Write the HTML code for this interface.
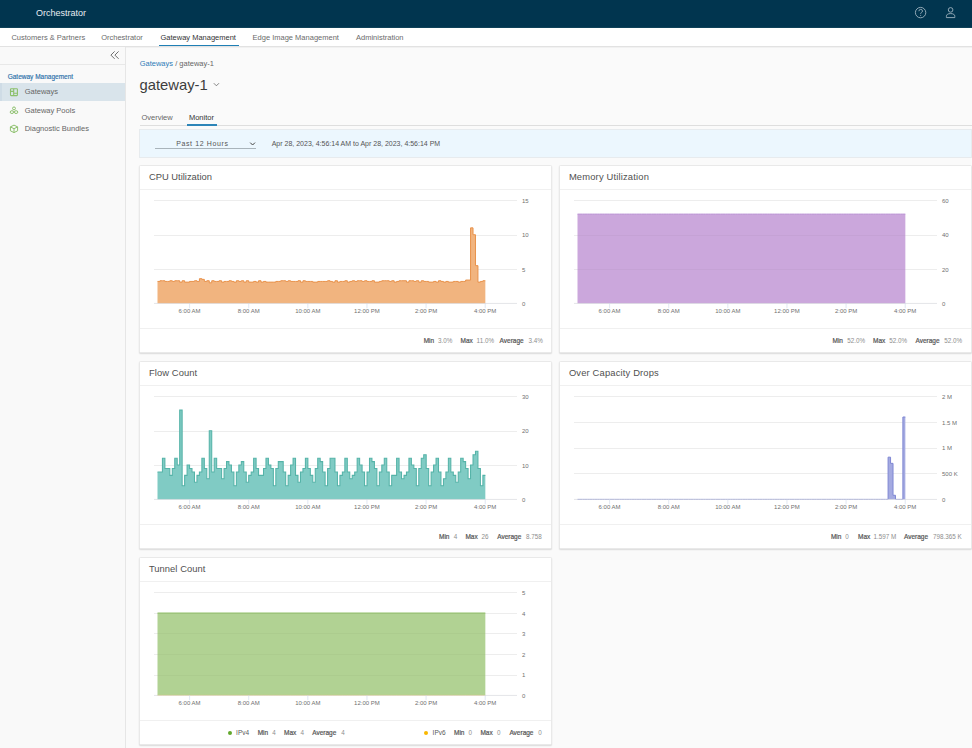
<!DOCTYPE html><html><head><meta charset="utf-8"><style>
*{box-sizing:border-box}
html,body{margin:0;padding:0;width:972px;height:748px;overflow:hidden;background:#fafafa;font-family:"Liberation Sans",sans-serif;}
.a{position:absolute;white-space:nowrap;}
.hdr{position:absolute;left:0;top:0;width:972px;height:28px;background:#01354f;}
.nav{position:absolute;left:0;top:28px;width:972px;height:19px;background:#fff;border-bottom:1px solid #e2e2e2;box-shadow:0 1px 0 #f1f1f1;}
.navt{position:absolute;top:33px;font-size:7.5px;color:#666;line-height:10px}
.side{position:absolute;left:0;top:47px;width:126px;height:701px;background:#f9f9f9;border-right:1px solid #e6e6e6;}
.card{position:absolute;background:#fff;border:1px solid #e9e9e9;border-radius:1.5px;box-shadow:0 1px 1.5px rgba(0,0,0,0.13);}
.ttl{position:absolute;font-size:9.4px;color:#505050;line-height:12px;}
.div{position:absolute;height:1px;background:#f0f0f0;}
.ft{font-size:6px;line-height:8px;}
.ft b{color:#454545;font-weight:700}
.ft span{color:#9a9a9a}
</style></head><body>

<div class="hdr"></div><div class="a" style="left:0;top:27px;width:972px;height:1px;background:#0f4259"></div>
<div class="a" style="left:36px;top:6.5px;font-size:9px;line-height:12px;color:#e8eef2;">Orchestrator</div>
<svg class="a" style="left:0;top:0" width="972" height="28"><circle cx="920.6" cy="12.6" r="5.2" fill="none" stroke="#9fb3bf" stroke-width="0.9"/><path d="M918.9 11.2 q0 -1.8 1.8 -1.8 q1.8 0 1.8 1.6 q0 1.1 -1.1 1.5 q-0.7 0.3 -0.7 1.2 v0.4" fill="none" stroke="#9fb3bf" stroke-width="0.85"/><circle cx="920.7" cy="15.6" r="0.5" fill="#9fb3bf"/><circle cx="950.6" cy="9.9" r="2.3" fill="none" stroke="#9fb3bf" stroke-width="0.9"/><path d="M946.4 17.6 v-1.2 q0 -2.8 4.2 -2.8 q4.2 0 4.2 2.8 v1.2 z" fill="none" stroke="#9fb3bf" stroke-width="0.9" stroke-linejoin="round"/></svg>
<div class="nav"></div>
<div class="a navt" style="left:11.4px;color:#6b6b6b">Customers &amp; Partners</div>
<div class="a navt" style="left:101.2px;color:#6b6b6b">Orchestrator</div>
<div class="a navt" style="left:160.5px;color:#333">Gateway Management</div>
<div class="a navt" style="left:252.6px;color:#6b6b6b">Edge Image Management</div>
<div class="a navt" style="left:356px;color:#6b6b6b">Administration</div>
<div class="a" style="left:158.8px;top:44.5px;width:80.2px;height:1.6px;background:#1f7fb5"></div>
<div class="side"></div>
<div class="a" style="left:0;top:64px;width:125px;height:1px;background:#e8e8e8"></div>
<svg class="a" style="left:108px;top:50px" width="14" height="12"><path d="M114.6 1.4 L110.9 5.1 L114.6 8.8 M118.6 1.4 L114.9 5.1 L118.6 8.8" transform="translate(-108 0)" fill="none" stroke="#5e5e5e" stroke-width="0.9"/></svg>
<div class="a" style="left:7.7px;top:72.8px;font-size:6.5px;line-height:8px;color:#2a70a9;-webkit-text-stroke:0.15px #2a70a9;">Gateway Management</div>
<div class="a" style="left:0;top:83px;width:125px;height:18.2px;background:#d9e4eb"></div><div class="a" style="left:0;top:83px;width:2px;height:18.2px;background:#cfdce6"></div>
<div class="a" style="left:24.7px;top:87.3px;font-size:7.5px;line-height:10px;color:#666">Gateways</div>
<div class="a" style="left:24.7px;top:105.6px;font-size:7.5px;line-height:10px;color:#666">Gateway Pools</div>
<div class="a" style="left:24.7px;top:123.8px;font-size:7.5px;line-height:10px;color:#666">Diagnostic Bundles</div>
<svg class="a" style="left:0;top:80px" width="24" height="60"><rect x="10.5" y="8.7" width="6.9" height="6.9" rx="0.6" fill="none" stroke="#8cc06c" stroke-width="1.1"/><path d="M13.7 8.7 V15.6 M10.5 11.4 H13.7 M13.7 13.2 H17.4" stroke="#8cc06c" stroke-width="1.1"/><circle cx="14" cy="28.4" r="1.45" fill="none" stroke="#8cc06c" stroke-width="1"/><ellipse cx="11.9" cy="32.1" rx="1.7" ry="1.4" fill="none" stroke="#8cc06c" stroke-width="1"/><ellipse cx="16.1" cy="32.1" rx="1.7" ry="1.4" fill="none" stroke="#8cc06c" stroke-width="1"/><path d="M14 45.1 l3.6 1.8 v3.9 l-3.6 1.8 l-3.6 -1.8 v-3.9 z M10.4 46.9 l3.6 1.8 l3.6 -1.8 M14 48.7 v3.9" fill="none" stroke="#8cc06c" stroke-width="1" stroke-linejoin="round"/></svg>
<div class="a" style="left:139.7px;top:59.2px;font-size:7.5px;line-height:10px;color:#666"><span style="color:#2f7bb8">Gateways</span> / gateway-1</div>
<div class="a" style="left:139.5px;top:75.6px;font-size:14.8px;line-height:18px;color:#3d3d3d;letter-spacing:0px">gateway-1</div>
<svg class="a" style="left:212px;top:80.8px" width="10" height="8"><path d="M1.8 2.2 L4.4 4.8 L7 2.2" fill="none" stroke="#666" stroke-width="0.8"/></svg>
<div class="a" style="left:139.7px;top:125px;width:833px;height:1px;background:#dedede"></div>
<div class="a" style="left:141.4px;top:112.8px;font-size:7.5px;line-height:10px;color:#666">Overview</div>
<div class="a" style="left:188.9px;top:112.8px;font-size:7.5px;line-height:10px;color:#333">Monitor</div>
<div class="a" style="left:187.4px;top:124.1px;width:29.4px;height:1.6px;background:#2d85b8"></div>
<div class="a" style="left:139.4px;top:128.5px;width:832.4px;height:29px;background:#ecf7fe;border:1px solid #e7ebee"></div>
<div class="a" style="left:176.2px;top:138.6px;font-size:7px;line-height:9px;color:#555;letter-spacing:0.62px">Past 12 Hours</div>
<div class="a" style="left:155px;top:147.9px;width:101.3px;height:1.1px;background:#a9b4bb"></div>
<svg class="a" style="left:248px;top:140px" width="9" height="7"><path d="M2.2 2.6 L4.6 5 L7 2.6" fill="none" stroke="#444" stroke-width="1"/></svg>
<div class="a" style="left:271.7px;top:138.5px;font-size:7px;line-height:9px;color:#555">Apr 28, 2023, 4:56:14 AM to Apr 28, 2023, 4:56:14 PM</div>
<div class="card" style="left:139px;top:165px;width:413px;height:188px"></div>
<div class="a ttl" style="left:148.9px;top:171.2px;letter-spacing:0px">CPU Utilization</div>
<div class="div" style="left:140px;top:188.8px;width:411px"></div>
<div class="div" style="left:140px;top:328px;width:411px"></div>
<div class="a" style="left:522px;top:197.00px;font-size:6px;line-height:8px;color:#707070">15</div>
<div class="a" style="left:522px;top:231.30px;font-size:6px;line-height:8px;color:#707070">10</div>
<div class="a" style="left:522px;top:265.60px;font-size:6px;line-height:8px;color:#707070">5</div>
<div class="a" style="left:522px;top:299.90px;font-size:6px;line-height:8px;color:#707070">0</div>
<div class="a" style="left:169.60px;width:40px;text-align:center;top:307px;font-size:6px;line-height:8px;color:#707070">6:00 AM</div>
<div class="a" style="left:228.72px;width:40px;text-align:center;top:307px;font-size:6px;line-height:8px;color:#707070">8:00 AM</div>
<div class="a" style="left:287.84px;width:40px;text-align:center;top:307px;font-size:6px;line-height:8px;color:#707070">10:00 AM</div>
<div class="a" style="left:346.96px;width:40px;text-align:center;top:307px;font-size:6px;line-height:8px;color:#707070">12:00 PM</div>
<div class="a" style="left:406.08px;width:40px;text-align:center;top:307px;font-size:6px;line-height:8px;color:#707070">2:00 PM</div>
<div class="a" style="left:465.20px;width:40px;text-align:center;top:307px;font-size:6px;line-height:8px;color:#707070">4:00 PM</div>
<div class="a ft" style="left:423.7px;top:336.6px;color:#555;-webkit-text-stroke:0.2px #555;font-size:6.5px">Min</div>
<div class="a ft" style="left:438.1px;top:336.6px;color:#8e8e8e;font-size:6.3px">3.0%</div>
<div class="a ft" style="left:460.5px;top:336.6px;color:#555;-webkit-text-stroke:0.2px #555;font-size:6.5px">Max</div>
<div class="a ft" style="left:476.6px;top:336.6px;color:#8e8e8e;font-size:6.3px">11.0%</div>
<div class="a ft" style="left:499.6px;top:336.6px;color:#555;-webkit-text-stroke:0.2px #555;font-size:6.5px">Average</div>
<div class="a ft" style="left:528.6px;top:336.6px;color:#8e8e8e;font-size:6.3px">3.4%</div>
<div class="card" style="left:559px;top:165px;width:413px;height:188px"></div>
<div class="a ttl" style="left:568.9px;top:171.2px;letter-spacing:0.17px">Memory Utilization</div>
<div class="div" style="left:560px;top:188.8px;width:411px"></div>
<div class="div" style="left:560px;top:328px;width:411px"></div>
<div class="a" style="left:942px;top:197.00px;font-size:6px;line-height:8px;color:#707070">60</div>
<div class="a" style="left:942px;top:231.30px;font-size:6px;line-height:8px;color:#707070">40</div>
<div class="a" style="left:942px;top:265.60px;font-size:6px;line-height:8px;color:#707070">20</div>
<div class="a" style="left:942px;top:299.90px;font-size:6px;line-height:8px;color:#707070">0</div>
<div class="a" style="left:589.60px;width:40px;text-align:center;top:307px;font-size:6px;line-height:8px;color:#707070">6:00 AM</div>
<div class="a" style="left:648.72px;width:40px;text-align:center;top:307px;font-size:6px;line-height:8px;color:#707070">8:00 AM</div>
<div class="a" style="left:707.84px;width:40px;text-align:center;top:307px;font-size:6px;line-height:8px;color:#707070">10:00 AM</div>
<div class="a" style="left:766.96px;width:40px;text-align:center;top:307px;font-size:6px;line-height:8px;color:#707070">12:00 PM</div>
<div class="a" style="left:826.08px;width:40px;text-align:center;top:307px;font-size:6px;line-height:8px;color:#707070">2:00 PM</div>
<div class="a" style="left:885.20px;width:40px;text-align:center;top:307px;font-size:6px;line-height:8px;color:#707070">4:00 PM</div>
<div class="a ft" style="left:832.5px;top:336.6px;color:#555;-webkit-text-stroke:0.2px #555;font-size:6.5px">Min</div>
<div class="a ft" style="left:847.3px;top:336.6px;color:#8e8e8e;font-size:6.3px">52.0%</div>
<div class="a ft" style="left:873px;top:336.6px;color:#555;-webkit-text-stroke:0.2px #555;font-size:6.5px">Max</div>
<div class="a ft" style="left:889.3px;top:336.6px;color:#8e8e8e;font-size:6.3px">52.0%</div>
<div class="a ft" style="left:915.5px;top:336.6px;color:#555;-webkit-text-stroke:0.2px #555;font-size:6.5px">Average</div>
<div class="a ft" style="left:944.3px;top:336.6px;color:#8e8e8e;font-size:6.3px">52.0%</div>
<div class="card" style="left:139px;top:361px;width:413px;height:188px"></div>
<div class="a ttl" style="left:148.9px;top:367.2px;letter-spacing:0.1px">Flow Count</div>
<div class="div" style="left:140px;top:384.8px;width:411px"></div>
<div class="div" style="left:140px;top:524px;width:411px"></div>
<div class="a" style="left:522px;top:393.00px;font-size:6px;line-height:8px;color:#707070">30</div>
<div class="a" style="left:522px;top:427.30px;font-size:6px;line-height:8px;color:#707070">20</div>
<div class="a" style="left:522px;top:461.60px;font-size:6px;line-height:8px;color:#707070">10</div>
<div class="a" style="left:522px;top:495.90px;font-size:6px;line-height:8px;color:#707070">0</div>
<div class="a" style="left:169.60px;width:40px;text-align:center;top:503px;font-size:6px;line-height:8px;color:#707070">6:00 AM</div>
<div class="a" style="left:228.72px;width:40px;text-align:center;top:503px;font-size:6px;line-height:8px;color:#707070">8:00 AM</div>
<div class="a" style="left:287.84px;width:40px;text-align:center;top:503px;font-size:6px;line-height:8px;color:#707070">10:00 AM</div>
<div class="a" style="left:346.96px;width:40px;text-align:center;top:503px;font-size:6px;line-height:8px;color:#707070">12:00 PM</div>
<div class="a" style="left:406.08px;width:40px;text-align:center;top:503px;font-size:6px;line-height:8px;color:#707070">2:00 PM</div>
<div class="a" style="left:465.20px;width:40px;text-align:center;top:503px;font-size:6px;line-height:8px;color:#707070">4:00 PM</div>
<div class="a ft" style="left:439px;top:532.6px;color:#555;-webkit-text-stroke:0.2px #555;font-size:6.5px">Min</div>
<div class="a ft" style="left:453.8px;top:532.6px;color:#8e8e8e;font-size:6.3px">4</div>
<div class="a ft" style="left:465.4px;top:532.6px;color:#555;-webkit-text-stroke:0.2px #555;font-size:6.5px">Max</div>
<div class="a ft" style="left:481.6px;top:532.6px;color:#8e8e8e;font-size:6.3px">26</div>
<div class="a ft" style="left:497.2px;top:532.6px;color:#555;-webkit-text-stroke:0.2px #555;font-size:6.5px">Average</div>
<div class="a ft" style="left:526.1px;top:532.6px;color:#8e8e8e;font-size:6.3px">8.758</div>
<div class="card" style="left:559px;top:361px;width:413px;height:188px"></div>
<div class="a ttl" style="left:568.9px;top:367.2px;letter-spacing:0.16px">Over Capacity Drops</div>
<div class="div" style="left:560px;top:384.8px;width:411px"></div>
<div class="div" style="left:560px;top:524px;width:411px"></div>
<div class="a" style="left:942px;top:393.00px;font-size:6px;line-height:8px;color:#707070">2 M</div>
<div class="a" style="left:942px;top:418.72px;font-size:6px;line-height:8px;color:#707070">1.5 M</div>
<div class="a" style="left:942px;top:444.45px;font-size:6px;line-height:8px;color:#707070">1 M</div>
<div class="a" style="left:942px;top:470.18px;font-size:6px;line-height:8px;color:#707070">500 K</div>
<div class="a" style="left:942px;top:495.90px;font-size:6px;line-height:8px;color:#707070">0</div>
<div class="a" style="left:589.60px;width:40px;text-align:center;top:503px;font-size:6px;line-height:8px;color:#707070">6:00 AM</div>
<div class="a" style="left:648.72px;width:40px;text-align:center;top:503px;font-size:6px;line-height:8px;color:#707070">8:00 AM</div>
<div class="a" style="left:707.84px;width:40px;text-align:center;top:503px;font-size:6px;line-height:8px;color:#707070">10:00 AM</div>
<div class="a" style="left:766.96px;width:40px;text-align:center;top:503px;font-size:6px;line-height:8px;color:#707070">12:00 PM</div>
<div class="a" style="left:826.08px;width:40px;text-align:center;top:503px;font-size:6px;line-height:8px;color:#707070">2:00 PM</div>
<div class="a" style="left:885.20px;width:40px;text-align:center;top:503px;font-size:6px;line-height:8px;color:#707070">4:00 PM</div>
<div class="a ft" style="left:830.9px;top:532.6px;color:#555;-webkit-text-stroke:0.2px #555;font-size:6.5px">Min</div>
<div class="a ft" style="left:845.3px;top:532.6px;color:#8e8e8e;font-size:6.3px">0</div>
<div class="a ft" style="left:858px;top:532.6px;color:#555;-webkit-text-stroke:0.2px #555;font-size:6.5px">Max</div>
<div class="a ft" style="left:873.6px;top:532.6px;color:#8e8e8e;font-size:6.3px">1.597 M</div>
<div class="a ft" style="left:904px;top:532.6px;color:#555;-webkit-text-stroke:0.2px #555;font-size:6.5px">Average</div>
<div class="a ft" style="left:932.9px;top:532.6px;color:#8e8e8e;font-size:6.3px">798.365 K</div>
<div class="card" style="left:139px;top:557px;width:413px;height:188px"></div>
<div class="a ttl" style="left:148.9px;top:563.2px;letter-spacing:0.05px">Tunnel Count</div>
<div class="div" style="left:140px;top:580.8px;width:411px"></div>
<div class="div" style="left:140px;top:720px;width:411px"></div>
<div class="a" style="left:522px;top:589.00px;font-size:6px;line-height:8px;color:#707070">5</div>
<div class="a" style="left:522px;top:609.58px;font-size:6px;line-height:8px;color:#707070">4</div>
<div class="a" style="left:522px;top:630.16px;font-size:6px;line-height:8px;color:#707070">3</div>
<div class="a" style="left:522px;top:650.74px;font-size:6px;line-height:8px;color:#707070">2</div>
<div class="a" style="left:522px;top:671.32px;font-size:6px;line-height:8px;color:#707070">1</div>
<div class="a" style="left:522px;top:691.90px;font-size:6px;line-height:8px;color:#707070">0</div>
<div class="a" style="left:169.60px;width:40px;text-align:center;top:699px;font-size:6px;line-height:8px;color:#707070">6:00 AM</div>
<div class="a" style="left:228.72px;width:40px;text-align:center;top:699px;font-size:6px;line-height:8px;color:#707070">8:00 AM</div>
<div class="a" style="left:287.84px;width:40px;text-align:center;top:699px;font-size:6px;line-height:8px;color:#707070">10:00 AM</div>
<div class="a" style="left:346.96px;width:40px;text-align:center;top:699px;font-size:6px;line-height:8px;color:#707070">12:00 PM</div>
<div class="a" style="left:406.08px;width:40px;text-align:center;top:699px;font-size:6px;line-height:8px;color:#707070">2:00 PM</div>
<div class="a" style="left:465.20px;width:40px;text-align:center;top:699px;font-size:6px;line-height:8px;color:#707070">4:00 PM</div>
<div class="a ft" style="left:236.1px;top:728.8000000000001px;color:#5a5a5a;font-size:6.5px">IPv4</div>
<div class="a ft" style="left:257.7px;top:728.8000000000001px;color:#555;-webkit-text-stroke:0.2px #555;font-size:6.5px">Min</div>
<div class="a ft" style="left:272.3px;top:728.8000000000001px;color:#8e8e8e;font-size:6.3px">4</div>
<div class="a ft" style="left:284.1px;top:728.8000000000001px;color:#555;-webkit-text-stroke:0.2px #555;font-size:6.5px">Max</div>
<div class="a ft" style="left:300.4px;top:728.8000000000001px;color:#8e8e8e;font-size:6.3px">4</div>
<div class="a ft" style="left:312.2px;top:728.8000000000001px;color:#555;-webkit-text-stroke:0.2px #555;font-size:6.5px">Average</div>
<div class="a ft" style="left:341.3px;top:728.8000000000001px;color:#8e8e8e;font-size:6.3px">4</div>
<div class="a ft" style="left:432.6px;top:728.8000000000001px;color:#5a5a5a;font-size:6.5px">IPv6</div>
<div class="a ft" style="left:454px;top:728.8000000000001px;color:#555;-webkit-text-stroke:0.2px #555;font-size:6.5px">Min</div>
<div class="a ft" style="left:468.5px;top:728.8000000000001px;color:#8e8e8e;font-size:6.3px">0</div>
<div class="a ft" style="left:480.4px;top:728.8000000000001px;color:#555;-webkit-text-stroke:0.2px #555;font-size:6.5px">Max</div>
<div class="a ft" style="left:497px;top:728.8000000000001px;color:#8e8e8e;font-size:6.3px">0</div>
<div class="a ft" style="left:509.4px;top:728.8000000000001px;color:#555;-webkit-text-stroke:0.2px #555;font-size:6.5px">Average</div>
<div class="a ft" style="left:538.2px;top:728.8000000000001px;color:#8e8e8e;font-size:6.3px">0</div>
<div class="a" style="left:228.1px;top:730.5px;width:4.2px;height:4.2px;border-radius:50%;background:#62a82c"></div>
<div class="a" style="left:424.3px;top:730.5px;width:4.2px;height:4.2px;border-radius:50%;background:#f9b700"></div>
<svg class="a" style="left:0;top:0" width="972" height="748">
<line x1="154" x2="517" y1="200.50" y2="200.50" stroke="#e9e9e9" stroke-width="0.8"/>
<line x1="154" x2="517" y1="235.50" y2="235.50" stroke="#e9e9e9" stroke-width="0.8"/>
<line x1="154" x2="517" y1="269.50" y2="269.50" stroke="#e9e9e9" stroke-width="0.8"/>
<path d="M157.50 303.40 L157.50 281.43 L159.97 281.43 L159.97 280.74 L162.43 280.74 L162.43 280.74 L164.90 280.74 L164.90 281.43 L167.36 281.43 L167.36 281.43 L169.82 281.43 L169.82 280.74 L172.29 280.74 L172.29 281.43 L174.75 281.43 L174.75 280.74 L177.22 280.74 L177.22 280.74 L179.69 280.74 L179.69 282.11 L182.15 282.11 L182.15 280.74 L184.62 280.74 L184.62 282.11 L187.08 282.11 L187.08 282.11 L189.55 282.11 L189.55 281.43 L192.01 281.43 L192.01 281.43 L194.47 281.43 L194.47 280.74 L196.94 280.74 L196.94 281.43 L199.41 281.43 L199.41 278.68 L201.87 278.68 L201.87 279.37 L204.33 279.37 L204.33 281.43 L206.80 281.43 L206.80 280.74 L209.26 280.74 L209.26 282.80 L211.73 282.80 L211.73 280.74 L214.19 280.74 L214.19 281.43 L216.66 281.43 L216.66 281.43 L219.12 281.43 L219.12 280.74 L221.59 280.74 L221.59 282.11 L224.06 282.11 L224.06 281.43 L226.52 281.43 L226.52 281.43 L228.99 281.43 L228.99 280.74 L231.45 280.74 L231.45 281.43 L233.91 281.43 L233.91 282.11 L236.38 282.11 L236.38 280.74 L238.84 280.74 L238.84 281.43 L241.31 281.43 L241.31 280.74 L243.77 280.74 L243.77 282.11 L246.24 282.11 L246.24 280.74 L248.70 280.74 L248.70 282.11 L251.17 282.11 L251.17 282.11 L253.63 282.11 L253.63 281.43 L256.10 281.43 L256.10 282.11 L258.56 282.11 L258.56 280.74 L261.03 280.74 L261.03 282.11 L263.50 282.11 L263.50 281.43 L265.96 281.43 L265.96 282.11 L268.43 282.11 L268.43 282.11 L270.89 282.11 L270.89 282.11 L273.36 282.11 L273.36 282.11 L275.82 282.11 L275.82 281.43 L278.28 281.43 L278.28 281.43 L280.75 281.43 L280.75 280.74 L283.21 280.74 L283.21 280.74 L285.68 280.74 L285.68 281.43 L288.14 281.43 L288.14 280.74 L290.61 280.74 L290.61 281.43 L293.07 281.43 L293.07 281.43 L295.54 281.43 L295.54 281.43 L298.00 281.43 L298.00 280.74 L300.47 280.74 L300.47 282.11 L302.94 282.11 L302.94 280.74 L305.40 280.74 L305.40 281.43 L307.87 281.43 L307.87 281.43 L310.33 281.43 L310.33 281.43 L312.79 281.43 L312.79 282.11 L315.26 282.11 L315.26 282.11 L317.73 282.11 L317.73 281.43 L320.19 281.43 L320.19 281.43 L322.65 281.43 L322.65 281.43 L325.12 281.43 L325.12 281.43 L327.58 281.43 L327.58 280.74 L330.05 280.74 L330.05 281.43 L332.51 281.43 L332.51 282.11 L334.98 282.11 L334.98 280.74 L337.44 280.74 L337.44 282.11 L339.91 282.11 L339.91 281.43 L342.38 281.43 L342.38 281.43 L344.84 281.43 L344.84 280.74 L347.30 280.74 L347.30 282.11 L349.77 282.11 L349.77 281.43 L352.24 281.43 L352.24 280.74 L354.70 280.74 L354.70 281.43 L357.16 281.43 L357.16 280.74 L359.63 280.74 L359.63 280.74 L362.10 280.74 L362.10 281.43 L364.56 281.43 L364.56 280.74 L367.02 280.74 L367.02 281.43 L369.49 281.43 L369.49 281.43 L371.95 281.43 L371.95 280.74 L374.42 280.74 L374.42 282.11 L376.88 282.11 L376.88 282.11 L379.35 282.11 L379.35 281.43 L381.81 281.43 L381.81 280.74 L384.28 280.74 L384.28 280.74 L386.75 280.74 L386.75 280.74 L389.21 280.74 L389.21 281.43 L391.67 281.43 L391.67 280.74 L394.14 280.74 L394.14 282.11 L396.61 282.11 L396.61 281.43 L399.07 281.43 L399.07 280.74 L401.53 280.74 L401.53 280.74 L404.00 280.74 L404.00 280.74 L406.46 280.74 L406.46 282.11 L408.93 282.11 L408.93 280.74 L411.39 280.74 L411.39 280.74 L413.86 280.74 L413.86 281.43 L416.32 281.43 L416.32 280.74 L418.79 280.74 L418.79 282.11 L421.25 282.11 L421.25 280.74 L423.72 280.74 L423.72 281.43 L426.19 281.43 L426.19 281.43 L428.65 281.43 L428.65 282.11 L431.12 282.11 L431.12 282.11 L433.58 282.11 L433.58 281.43 L436.04 281.43 L436.04 282.11 L438.51 282.11 L438.51 280.74 L440.97 280.74 L440.97 281.43 L443.44 281.43 L443.44 282.11 L445.90 282.11 L445.90 281.43 L448.37 281.43 L448.37 282.11 L450.83 282.11 L450.83 282.11 L453.30 282.11 L453.30 281.43 L455.76 281.43 L455.76 281.43 L458.23 281.43 L458.23 282.11 L460.69 282.11 L460.69 281.43 L463.16 281.43 L463.16 281.43 L465.62 281.43 L465.62 280.05 L468.09 280.05 L468.09 280.05 L470.56 280.05 L470.56 227.87 L473.02 227.87 L473.02 234.73 L475.48 234.73 L475.48 265.63 L477.95 265.63 L477.95 282.11 L480.41 282.11 L480.41 281.43 L482.88 281.43 L482.88 280.74 L485.34 280.74 L485.34 303.40 Z" fill="#f1b47f"/>
<path d="M157.50 281.43 L159.97 281.43 L159.97 280.74 L162.43 280.74 L162.43 280.74 L164.90 280.74 L164.90 281.43 L167.36 281.43 L167.36 281.43 L169.82 281.43 L169.82 280.74 L172.29 280.74 L172.29 281.43 L174.75 281.43 L174.75 280.74 L177.22 280.74 L177.22 280.74 L179.69 280.74 L179.69 282.11 L182.15 282.11 L182.15 280.74 L184.62 280.74 L184.62 282.11 L187.08 282.11 L187.08 282.11 L189.55 282.11 L189.55 281.43 L192.01 281.43 L192.01 281.43 L194.47 281.43 L194.47 280.74 L196.94 280.74 L196.94 281.43 L199.41 281.43 L199.41 278.68 L201.87 278.68 L201.87 279.37 L204.33 279.37 L204.33 281.43 L206.80 281.43 L206.80 280.74 L209.26 280.74 L209.26 282.80 L211.73 282.80 L211.73 280.74 L214.19 280.74 L214.19 281.43 L216.66 281.43 L216.66 281.43 L219.12 281.43 L219.12 280.74 L221.59 280.74 L221.59 282.11 L224.06 282.11 L224.06 281.43 L226.52 281.43 L226.52 281.43 L228.99 281.43 L228.99 280.74 L231.45 280.74 L231.45 281.43 L233.91 281.43 L233.91 282.11 L236.38 282.11 L236.38 280.74 L238.84 280.74 L238.84 281.43 L241.31 281.43 L241.31 280.74 L243.77 280.74 L243.77 282.11 L246.24 282.11 L246.24 280.74 L248.70 280.74 L248.70 282.11 L251.17 282.11 L251.17 282.11 L253.63 282.11 L253.63 281.43 L256.10 281.43 L256.10 282.11 L258.56 282.11 L258.56 280.74 L261.03 280.74 L261.03 282.11 L263.50 282.11 L263.50 281.43 L265.96 281.43 L265.96 282.11 L268.43 282.11 L268.43 282.11 L270.89 282.11 L270.89 282.11 L273.36 282.11 L273.36 282.11 L275.82 282.11 L275.82 281.43 L278.28 281.43 L278.28 281.43 L280.75 281.43 L280.75 280.74 L283.21 280.74 L283.21 280.74 L285.68 280.74 L285.68 281.43 L288.14 281.43 L288.14 280.74 L290.61 280.74 L290.61 281.43 L293.07 281.43 L293.07 281.43 L295.54 281.43 L295.54 281.43 L298.00 281.43 L298.00 280.74 L300.47 280.74 L300.47 282.11 L302.94 282.11 L302.94 280.74 L305.40 280.74 L305.40 281.43 L307.87 281.43 L307.87 281.43 L310.33 281.43 L310.33 281.43 L312.79 281.43 L312.79 282.11 L315.26 282.11 L315.26 282.11 L317.73 282.11 L317.73 281.43 L320.19 281.43 L320.19 281.43 L322.65 281.43 L322.65 281.43 L325.12 281.43 L325.12 281.43 L327.58 281.43 L327.58 280.74 L330.05 280.74 L330.05 281.43 L332.51 281.43 L332.51 282.11 L334.98 282.11 L334.98 280.74 L337.44 280.74 L337.44 282.11 L339.91 282.11 L339.91 281.43 L342.38 281.43 L342.38 281.43 L344.84 281.43 L344.84 280.74 L347.30 280.74 L347.30 282.11 L349.77 282.11 L349.77 281.43 L352.24 281.43 L352.24 280.74 L354.70 280.74 L354.70 281.43 L357.16 281.43 L357.16 280.74 L359.63 280.74 L359.63 280.74 L362.10 280.74 L362.10 281.43 L364.56 281.43 L364.56 280.74 L367.02 280.74 L367.02 281.43 L369.49 281.43 L369.49 281.43 L371.95 281.43 L371.95 280.74 L374.42 280.74 L374.42 282.11 L376.88 282.11 L376.88 282.11 L379.35 282.11 L379.35 281.43 L381.81 281.43 L381.81 280.74 L384.28 280.74 L384.28 280.74 L386.75 280.74 L386.75 280.74 L389.21 280.74 L389.21 281.43 L391.67 281.43 L391.67 280.74 L394.14 280.74 L394.14 282.11 L396.61 282.11 L396.61 281.43 L399.07 281.43 L399.07 280.74 L401.53 280.74 L401.53 280.74 L404.00 280.74 L404.00 280.74 L406.46 280.74 L406.46 282.11 L408.93 282.11 L408.93 280.74 L411.39 280.74 L411.39 280.74 L413.86 280.74 L413.86 281.43 L416.32 281.43 L416.32 280.74 L418.79 280.74 L418.79 282.11 L421.25 282.11 L421.25 280.74 L423.72 280.74 L423.72 281.43 L426.19 281.43 L426.19 281.43 L428.65 281.43 L428.65 282.11 L431.12 282.11 L431.12 282.11 L433.58 282.11 L433.58 281.43 L436.04 281.43 L436.04 282.11 L438.51 282.11 L438.51 280.74 L440.97 280.74 L440.97 281.43 L443.44 281.43 L443.44 282.11 L445.90 282.11 L445.90 281.43 L448.37 281.43 L448.37 282.11 L450.83 282.11 L450.83 282.11 L453.30 282.11 L453.30 281.43 L455.76 281.43 L455.76 281.43 L458.23 281.43 L458.23 282.11 L460.69 282.11 L460.69 281.43 L463.16 281.43 L463.16 281.43 L465.62 281.43 L465.62 280.05 L468.09 280.05 L468.09 280.05 L470.56 280.05 L470.56 227.87 L473.02 227.87 L473.02 234.73 L475.48 234.73 L475.48 265.63 L477.95 265.63 L477.95 282.11 L480.41 282.11 L480.41 281.43 L482.88 281.43 L482.88 280.74 L485.34 280.74" fill="none" stroke="#e8924b" stroke-width="1"/>
<line x1="154" x2="517" y1="303.45" y2="303.45" stroke="#d8dadf" stroke-width="0.7"/>
<line x1="189.60" x2="189.60" y1="303.2" y2="308.2" stroke="#ccd6eb" stroke-width="0.6"/>
<line x1="248.72" x2="248.72" y1="303.2" y2="308.2" stroke="#ccd6eb" stroke-width="0.6"/>
<line x1="307.84" x2="307.84" y1="303.2" y2="308.2" stroke="#ccd6eb" stroke-width="0.6"/>
<line x1="366.96" x2="366.96" y1="303.2" y2="308.2" stroke="#ccd6eb" stroke-width="0.6"/>
<line x1="426.08" x2="426.08" y1="303.2" y2="308.2" stroke="#ccd6eb" stroke-width="0.6"/>
<line x1="485.20" x2="485.20" y1="303.2" y2="308.2" stroke="#ccd6eb" stroke-width="0.6"/>
</svg>
<svg class="a" style="left:0;top:0" width="972" height="748">
<line x1="574" x2="937" y1="200.50" y2="200.50" stroke="#e9e9e9" stroke-width="0.8"/>
<line x1="574" x2="937" y1="235.50" y2="235.50" stroke="#e9e9e9" stroke-width="0.8"/>
<line x1="574" x2="937" y1="269.50" y2="269.50" stroke="#e9e9e9" stroke-width="0.8"/>
<path d="M577.50 303.40 L577.50 214.13 L579.97 214.13 L579.97 214.13 L582.43 214.13 L582.43 214.13 L584.89 214.13 L584.89 214.13 L587.36 214.13 L587.36 214.13 L589.83 214.13 L589.83 214.13 L592.29 214.13 L592.29 214.13 L594.75 214.13 L594.75 214.13 L597.22 214.13 L597.22 214.13 L599.68 214.13 L599.68 214.13 L602.15 214.13 L602.15 214.13 L604.62 214.13 L604.62 214.13 L607.08 214.13 L607.08 214.13 L609.54 214.13 L609.54 214.13 L612.01 214.13 L612.01 214.13 L614.48 214.13 L614.48 214.13 L616.94 214.13 L616.94 214.13 L619.40 214.13 L619.40 214.13 L621.87 214.13 L621.87 214.13 L624.34 214.13 L624.34 214.13 L626.80 214.13 L626.80 214.13 L629.26 214.13 L629.26 214.13 L631.73 214.13 L631.73 214.13 L634.19 214.13 L634.19 214.13 L636.66 214.13 L636.66 214.13 L639.12 214.13 L639.12 214.13 L641.59 214.13 L641.59 214.13 L644.05 214.13 L644.05 214.13 L646.52 214.13 L646.52 214.13 L648.99 214.13 L648.99 214.13 L651.45 214.13 L651.45 214.13 L653.91 214.13 L653.91 214.13 L656.38 214.13 L656.38 214.13 L658.85 214.13 L658.85 214.13 L661.31 214.13 L661.31 214.13 L663.77 214.13 L663.77 214.13 L666.24 214.13 L666.24 214.13 L668.71 214.13 L668.71 214.13 L671.17 214.13 L671.17 214.13 L673.63 214.13 L673.63 214.13 L676.10 214.13 L676.10 214.13 L678.57 214.13 L678.57 214.13 L681.03 214.13 L681.03 214.13 L683.50 214.13 L683.50 214.13 L685.96 214.13 L685.96 214.13 L688.42 214.13 L688.42 214.13 L690.89 214.13 L690.89 214.13 L693.36 214.13 L693.36 214.13 L695.82 214.13 L695.82 214.13 L698.28 214.13 L698.28 214.13 L700.75 214.13 L700.75 214.13 L703.22 214.13 L703.22 214.13 L705.68 214.13 L705.68 214.13 L708.14 214.13 L708.14 214.13 L710.61 214.13 L710.61 214.13 L713.08 214.13 L713.08 214.13 L715.54 214.13 L715.54 214.13 L718.00 214.13 L718.00 214.13 L720.47 214.13 L720.47 214.13 L722.93 214.13 L722.93 214.13 L725.40 214.13 L725.40 214.13 L727.87 214.13 L727.87 214.13 L730.33 214.13 L730.33 214.13 L732.79 214.13 L732.79 214.13 L735.26 214.13 L735.26 214.13 L737.73 214.13 L737.73 214.13 L740.19 214.13 L740.19 214.13 L742.65 214.13 L742.65 214.13 L745.12 214.13 L745.12 214.13 L747.59 214.13 L747.59 214.13 L750.05 214.13 L750.05 214.13 L752.51 214.13 L752.51 214.13 L754.98 214.13 L754.98 214.13 L757.44 214.13 L757.44 214.13 L759.91 214.13 L759.91 214.13 L762.38 214.13 L762.38 214.13 L764.84 214.13 L764.84 214.13 L767.30 214.13 L767.30 214.13 L769.77 214.13 L769.77 214.13 L772.24 214.13 L772.24 214.13 L774.70 214.13 L774.70 214.13 L777.16 214.13 L777.16 214.13 L779.63 214.13 L779.63 214.13 L782.10 214.13 L782.10 214.13 L784.56 214.13 L784.56 214.13 L787.02 214.13 L787.02 214.13 L789.49 214.13 L789.49 214.13 L791.95 214.13 L791.95 214.13 L794.42 214.13 L794.42 214.13 L796.88 214.13 L796.88 214.13 L799.35 214.13 L799.35 214.13 L801.82 214.13 L801.82 214.13 L804.28 214.13 L804.28 214.13 L806.75 214.13 L806.75 214.13 L809.21 214.13 L809.21 214.13 L811.67 214.13 L811.67 214.13 L814.14 214.13 L814.14 214.13 L816.61 214.13 L816.61 214.13 L819.07 214.13 L819.07 214.13 L821.53 214.13 L821.53 214.13 L824.00 214.13 L824.00 214.13 L826.46 214.13 L826.46 214.13 L828.93 214.13 L828.93 214.13 L831.39 214.13 L831.39 214.13 L833.86 214.13 L833.86 214.13 L836.33 214.13 L836.33 214.13 L838.79 214.13 L838.79 214.13 L841.25 214.13 L841.25 214.13 L843.72 214.13 L843.72 214.13 L846.18 214.13 L846.18 214.13 L848.65 214.13 L848.65 214.13 L851.12 214.13 L851.12 214.13 L853.58 214.13 L853.58 214.13 L856.04 214.13 L856.04 214.13 L858.51 214.13 L858.51 214.13 L860.97 214.13 L860.97 214.13 L863.44 214.13 L863.44 214.13 L865.90 214.13 L865.90 214.13 L868.37 214.13 L868.37 214.13 L870.84 214.13 L870.84 214.13 L873.30 214.13 L873.30 214.13 L875.76 214.13 L875.76 214.13 L878.23 214.13 L878.23 214.13 L880.69 214.13 L880.69 214.13 L883.16 214.13 L883.16 214.13 L885.62 214.13 L885.62 214.13 L888.09 214.13 L888.09 214.13 L890.56 214.13 L890.56 214.13 L893.02 214.13 L893.02 214.13 L895.48 214.13 L895.48 214.13 L897.95 214.13 L897.95 214.13 L900.41 214.13 L900.41 214.13 L902.88 214.13 L902.88 214.13 L905.35 214.13 L905.35 303.40 Z" fill="#cba7dc"/>
<path d="M577.50 214.13 L579.97 214.13 L579.97 214.13 L582.43 214.13 L582.43 214.13 L584.89 214.13 L584.89 214.13 L587.36 214.13 L587.36 214.13 L589.83 214.13 L589.83 214.13 L592.29 214.13 L592.29 214.13 L594.75 214.13 L594.75 214.13 L597.22 214.13 L597.22 214.13 L599.68 214.13 L599.68 214.13 L602.15 214.13 L602.15 214.13 L604.62 214.13 L604.62 214.13 L607.08 214.13 L607.08 214.13 L609.54 214.13 L609.54 214.13 L612.01 214.13 L612.01 214.13 L614.48 214.13 L614.48 214.13 L616.94 214.13 L616.94 214.13 L619.40 214.13 L619.40 214.13 L621.87 214.13 L621.87 214.13 L624.34 214.13 L624.34 214.13 L626.80 214.13 L626.80 214.13 L629.26 214.13 L629.26 214.13 L631.73 214.13 L631.73 214.13 L634.19 214.13 L634.19 214.13 L636.66 214.13 L636.66 214.13 L639.12 214.13 L639.12 214.13 L641.59 214.13 L641.59 214.13 L644.05 214.13 L644.05 214.13 L646.52 214.13 L646.52 214.13 L648.99 214.13 L648.99 214.13 L651.45 214.13 L651.45 214.13 L653.91 214.13 L653.91 214.13 L656.38 214.13 L656.38 214.13 L658.85 214.13 L658.85 214.13 L661.31 214.13 L661.31 214.13 L663.77 214.13 L663.77 214.13 L666.24 214.13 L666.24 214.13 L668.71 214.13 L668.71 214.13 L671.17 214.13 L671.17 214.13 L673.63 214.13 L673.63 214.13 L676.10 214.13 L676.10 214.13 L678.57 214.13 L678.57 214.13 L681.03 214.13 L681.03 214.13 L683.50 214.13 L683.50 214.13 L685.96 214.13 L685.96 214.13 L688.42 214.13 L688.42 214.13 L690.89 214.13 L690.89 214.13 L693.36 214.13 L693.36 214.13 L695.82 214.13 L695.82 214.13 L698.28 214.13 L698.28 214.13 L700.75 214.13 L700.75 214.13 L703.22 214.13 L703.22 214.13 L705.68 214.13 L705.68 214.13 L708.14 214.13 L708.14 214.13 L710.61 214.13 L710.61 214.13 L713.08 214.13 L713.08 214.13 L715.54 214.13 L715.54 214.13 L718.00 214.13 L718.00 214.13 L720.47 214.13 L720.47 214.13 L722.93 214.13 L722.93 214.13 L725.40 214.13 L725.40 214.13 L727.87 214.13 L727.87 214.13 L730.33 214.13 L730.33 214.13 L732.79 214.13 L732.79 214.13 L735.26 214.13 L735.26 214.13 L737.73 214.13 L737.73 214.13 L740.19 214.13 L740.19 214.13 L742.65 214.13 L742.65 214.13 L745.12 214.13 L745.12 214.13 L747.59 214.13 L747.59 214.13 L750.05 214.13 L750.05 214.13 L752.51 214.13 L752.51 214.13 L754.98 214.13 L754.98 214.13 L757.44 214.13 L757.44 214.13 L759.91 214.13 L759.91 214.13 L762.38 214.13 L762.38 214.13 L764.84 214.13 L764.84 214.13 L767.30 214.13 L767.30 214.13 L769.77 214.13 L769.77 214.13 L772.24 214.13 L772.24 214.13 L774.70 214.13 L774.70 214.13 L777.16 214.13 L777.16 214.13 L779.63 214.13 L779.63 214.13 L782.10 214.13 L782.10 214.13 L784.56 214.13 L784.56 214.13 L787.02 214.13 L787.02 214.13 L789.49 214.13 L789.49 214.13 L791.95 214.13 L791.95 214.13 L794.42 214.13 L794.42 214.13 L796.88 214.13 L796.88 214.13 L799.35 214.13 L799.35 214.13 L801.82 214.13 L801.82 214.13 L804.28 214.13 L804.28 214.13 L806.75 214.13 L806.75 214.13 L809.21 214.13 L809.21 214.13 L811.67 214.13 L811.67 214.13 L814.14 214.13 L814.14 214.13 L816.61 214.13 L816.61 214.13 L819.07 214.13 L819.07 214.13 L821.53 214.13 L821.53 214.13 L824.00 214.13 L824.00 214.13 L826.46 214.13 L826.46 214.13 L828.93 214.13 L828.93 214.13 L831.39 214.13 L831.39 214.13 L833.86 214.13 L833.86 214.13 L836.33 214.13 L836.33 214.13 L838.79 214.13 L838.79 214.13 L841.25 214.13 L841.25 214.13 L843.72 214.13 L843.72 214.13 L846.18 214.13 L846.18 214.13 L848.65 214.13 L848.65 214.13 L851.12 214.13 L851.12 214.13 L853.58 214.13 L853.58 214.13 L856.04 214.13 L856.04 214.13 L858.51 214.13 L858.51 214.13 L860.97 214.13 L860.97 214.13 L863.44 214.13 L863.44 214.13 L865.90 214.13 L865.90 214.13 L868.37 214.13 L868.37 214.13 L870.84 214.13 L870.84 214.13 L873.30 214.13 L873.30 214.13 L875.76 214.13 L875.76 214.13 L878.23 214.13 L878.23 214.13 L880.69 214.13 L880.69 214.13 L883.16 214.13 L883.16 214.13 L885.62 214.13 L885.62 214.13 L888.09 214.13 L888.09 214.13 L890.56 214.13 L890.56 214.13 L893.02 214.13 L893.02 214.13 L895.48 214.13 L895.48 214.13 L897.95 214.13 L897.95 214.13 L900.41 214.13 L900.41 214.13 L902.88 214.13 L902.88 214.13 L905.35 214.13" fill="none" stroke="#b48ad0" stroke-width="1"/>
<line x1="577.5" x2="905.1" y1="235.50" y2="235.50" stroke="#000" stroke-opacity="0.045" stroke-width="0.7"/>
<line x1="577.5" x2="905.1" y1="269.50" y2="269.50" stroke="#000" stroke-opacity="0.045" stroke-width="0.7"/>
<line x1="574" x2="937" y1="303.45" y2="303.45" stroke="#d8dadf" stroke-width="0.7"/>
<line x1="609.60" x2="609.60" y1="303.2" y2="308.2" stroke="#ccd6eb" stroke-width="0.6"/>
<line x1="668.72" x2="668.72" y1="303.2" y2="308.2" stroke="#ccd6eb" stroke-width="0.6"/>
<line x1="727.84" x2="727.84" y1="303.2" y2="308.2" stroke="#ccd6eb" stroke-width="0.6"/>
<line x1="786.96" x2="786.96" y1="303.2" y2="308.2" stroke="#ccd6eb" stroke-width="0.6"/>
<line x1="846.08" x2="846.08" y1="303.2" y2="308.2" stroke="#ccd6eb" stroke-width="0.6"/>
<line x1="905.20" x2="905.20" y1="303.2" y2="308.2" stroke="#ccd6eb" stroke-width="0.6"/>
</svg>
<svg class="a" style="left:0;top:0" width="972" height="748">
<line x1="154" x2="517" y1="396.50" y2="396.50" stroke="#e9e9e9" stroke-width="0.8"/>
<line x1="154" x2="517" y1="431.50" y2="431.50" stroke="#e9e9e9" stroke-width="0.8"/>
<line x1="154" x2="517" y1="465.50" y2="465.50" stroke="#e9e9e9" stroke-width="0.8"/>
<path d="M157.50 499.40 L157.50 471.93 L159.97 471.93 L159.97 471.93 L162.43 471.93 L162.43 458.20 L164.90 458.20 L164.90 468.50 L167.36 468.50 L167.36 468.50 L169.82 468.50 L169.82 475.37 L172.29 475.37 L172.29 468.50 L174.75 468.50 L174.75 458.20 L177.22 458.20 L177.22 465.07 L179.69 465.07 L179.69 410.13 L182.15 410.13 L182.15 485.67 L184.62 485.67 L184.62 475.37 L187.08 475.37 L187.08 465.07 L189.55 465.07 L189.55 468.50 L192.01 468.50 L192.01 471.93 L194.47 471.93 L194.47 482.23 L196.94 482.23 L196.94 475.37 L199.41 475.37 L199.41 471.93 L201.87 471.93 L201.87 458.20 L204.33 458.20 L204.33 468.50 L206.80 468.50 L206.80 478.80 L209.26 478.80 L209.26 430.73 L211.73 430.73 L211.73 471.93 L214.19 471.93 L214.19 458.20 L216.66 458.20 L216.66 468.50 L219.12 468.50 L219.12 468.50 L221.59 468.50 L221.59 478.80 L224.06 478.80 L224.06 468.50 L226.52 468.50 L226.52 461.63 L228.99 461.63 L228.99 465.07 L231.45 465.07 L231.45 471.93 L233.91 471.93 L233.91 485.67 L236.38 485.67 L236.38 471.93 L238.84 471.93 L238.84 465.07 L241.31 465.07 L241.31 461.63 L243.77 461.63 L243.77 471.93 L246.24 471.93 L246.24 482.23 L248.70 482.23 L248.70 475.37 L251.17 475.37 L251.17 471.93 L253.63 471.93 L253.63 458.20 L256.10 458.20 L256.10 468.50 L258.56 468.50 L258.56 475.37 L261.03 475.37 L261.03 475.37 L263.50 475.37 L263.50 468.50 L265.96 468.50 L265.96 458.20 L268.43 458.20 L268.43 465.07 L270.89 465.07 L270.89 468.50 L273.36 468.50 L273.36 485.67 L275.82 485.67 L275.82 468.50 L278.28 468.50 L278.28 461.63 L280.75 461.63 L280.75 461.63 L283.21 461.63 L283.21 471.93 L285.68 471.93 L285.68 485.67 L288.14 485.67 L288.14 475.37 L290.61 475.37 L290.61 465.07 L293.07 465.07 L293.07 458.20 L295.54 458.20 L295.54 475.37 L298.00 475.37 L298.00 482.23 L300.47 482.23 L300.47 471.93 L302.94 471.93 L302.94 468.50 L305.40 468.50 L305.40 458.20 L307.87 458.20 L307.87 468.50 L310.33 468.50 L310.33 475.37 L312.79 475.37 L312.79 482.23 L315.26 482.23 L315.26 468.50 L317.73 468.50 L317.73 458.20 L320.19 458.20 L320.19 461.63 L322.65 461.63 L322.65 471.93 L325.12 471.93 L325.12 485.67 L327.58 485.67 L327.58 468.50 L330.05 468.50 L330.05 458.20 L332.51 458.20 L332.51 458.20 L334.98 458.20 L334.98 471.93 L337.44 471.93 L337.44 485.67 L339.91 485.67 L339.91 475.37 L342.38 475.37 L342.38 471.93 L344.84 471.93 L344.84 458.20 L347.30 458.20 L347.30 471.93 L349.77 471.93 L349.77 478.80 L352.24 478.80 L352.24 475.37 L354.70 475.37 L354.70 471.93 L357.16 471.93 L357.16 458.20 L359.63 458.20 L359.63 465.07 L362.10 465.07 L362.10 471.93 L364.56 471.93 L364.56 485.67 L367.02 485.67 L367.02 471.93 L369.49 471.93 L369.49 458.20 L371.95 458.20 L371.95 461.63 L374.42 461.63 L374.42 468.50 L376.88 468.50 L376.88 485.67 L379.35 485.67 L379.35 471.93 L381.81 471.93 L381.81 465.07 L384.28 465.07 L384.28 458.20 L386.75 458.20 L386.75 471.93 L389.21 471.93 L389.21 485.67 L391.67 485.67 L391.67 475.37 L394.14 475.37 L394.14 475.37 L396.61 475.37 L396.61 458.20 L399.07 458.20 L399.07 471.93 L401.53 471.93 L401.53 478.80 L404.00 478.80 L404.00 475.37 L406.46 475.37 L406.46 471.93 L408.93 471.93 L408.93 458.20 L411.39 458.20 L411.39 465.07 L413.86 465.07 L413.86 468.50 L416.32 468.50 L416.32 485.67 L418.79 485.67 L418.79 468.50 L421.25 468.50 L421.25 458.20 L423.72 458.20 L423.72 454.77 L426.19 454.77 L426.19 468.50 L428.65 468.50 L428.65 485.67 L431.12 485.67 L431.12 471.93 L433.58 471.93 L433.58 465.07 L436.04 465.07 L436.04 458.20 L438.51 458.20 L438.51 471.93 L440.97 471.93 L440.97 485.67 L443.44 485.67 L443.44 478.80 L445.90 478.80 L445.90 471.93 L448.37 471.93 L448.37 458.20 L450.83 458.20 L450.83 471.93 L453.30 471.93 L453.30 475.37 L455.76 475.37 L455.76 482.23 L458.23 482.23 L458.23 471.93 L460.69 471.93 L460.69 458.20 L463.16 458.20 L463.16 461.63 L465.62 461.63 L465.62 468.50 L468.09 468.50 L468.09 478.80 L470.56 478.80 L470.56 465.07 L473.02 465.07 L473.02 454.77 L475.48 454.77 L475.48 451.33 L477.95 451.33 L477.95 468.50 L480.41 468.50 L480.41 485.67 L482.88 485.67 L482.88 475.37 L485.34 475.37 L485.34 499.40 Z" fill="#80cbc4"/>
<path d="M157.50 471.93 L159.97 471.93 L159.97 471.93 L162.43 471.93 L162.43 458.20 L164.90 458.20 L164.90 468.50 L167.36 468.50 L167.36 468.50 L169.82 468.50 L169.82 475.37 L172.29 475.37 L172.29 468.50 L174.75 468.50 L174.75 458.20 L177.22 458.20 L177.22 465.07 L179.69 465.07 L179.69 410.13 L182.15 410.13 L182.15 485.67 L184.62 485.67 L184.62 475.37 L187.08 475.37 L187.08 465.07 L189.55 465.07 L189.55 468.50 L192.01 468.50 L192.01 471.93 L194.47 471.93 L194.47 482.23 L196.94 482.23 L196.94 475.37 L199.41 475.37 L199.41 471.93 L201.87 471.93 L201.87 458.20 L204.33 458.20 L204.33 468.50 L206.80 468.50 L206.80 478.80 L209.26 478.80 L209.26 430.73 L211.73 430.73 L211.73 471.93 L214.19 471.93 L214.19 458.20 L216.66 458.20 L216.66 468.50 L219.12 468.50 L219.12 468.50 L221.59 468.50 L221.59 478.80 L224.06 478.80 L224.06 468.50 L226.52 468.50 L226.52 461.63 L228.99 461.63 L228.99 465.07 L231.45 465.07 L231.45 471.93 L233.91 471.93 L233.91 485.67 L236.38 485.67 L236.38 471.93 L238.84 471.93 L238.84 465.07 L241.31 465.07 L241.31 461.63 L243.77 461.63 L243.77 471.93 L246.24 471.93 L246.24 482.23 L248.70 482.23 L248.70 475.37 L251.17 475.37 L251.17 471.93 L253.63 471.93 L253.63 458.20 L256.10 458.20 L256.10 468.50 L258.56 468.50 L258.56 475.37 L261.03 475.37 L261.03 475.37 L263.50 475.37 L263.50 468.50 L265.96 468.50 L265.96 458.20 L268.43 458.20 L268.43 465.07 L270.89 465.07 L270.89 468.50 L273.36 468.50 L273.36 485.67 L275.82 485.67 L275.82 468.50 L278.28 468.50 L278.28 461.63 L280.75 461.63 L280.75 461.63 L283.21 461.63 L283.21 471.93 L285.68 471.93 L285.68 485.67 L288.14 485.67 L288.14 475.37 L290.61 475.37 L290.61 465.07 L293.07 465.07 L293.07 458.20 L295.54 458.20 L295.54 475.37 L298.00 475.37 L298.00 482.23 L300.47 482.23 L300.47 471.93 L302.94 471.93 L302.94 468.50 L305.40 468.50 L305.40 458.20 L307.87 458.20 L307.87 468.50 L310.33 468.50 L310.33 475.37 L312.79 475.37 L312.79 482.23 L315.26 482.23 L315.26 468.50 L317.73 468.50 L317.73 458.20 L320.19 458.20 L320.19 461.63 L322.65 461.63 L322.65 471.93 L325.12 471.93 L325.12 485.67 L327.58 485.67 L327.58 468.50 L330.05 468.50 L330.05 458.20 L332.51 458.20 L332.51 458.20 L334.98 458.20 L334.98 471.93 L337.44 471.93 L337.44 485.67 L339.91 485.67 L339.91 475.37 L342.38 475.37 L342.38 471.93 L344.84 471.93 L344.84 458.20 L347.30 458.20 L347.30 471.93 L349.77 471.93 L349.77 478.80 L352.24 478.80 L352.24 475.37 L354.70 475.37 L354.70 471.93 L357.16 471.93 L357.16 458.20 L359.63 458.20 L359.63 465.07 L362.10 465.07 L362.10 471.93 L364.56 471.93 L364.56 485.67 L367.02 485.67 L367.02 471.93 L369.49 471.93 L369.49 458.20 L371.95 458.20 L371.95 461.63 L374.42 461.63 L374.42 468.50 L376.88 468.50 L376.88 485.67 L379.35 485.67 L379.35 471.93 L381.81 471.93 L381.81 465.07 L384.28 465.07 L384.28 458.20 L386.75 458.20 L386.75 471.93 L389.21 471.93 L389.21 485.67 L391.67 485.67 L391.67 475.37 L394.14 475.37 L394.14 475.37 L396.61 475.37 L396.61 458.20 L399.07 458.20 L399.07 471.93 L401.53 471.93 L401.53 478.80 L404.00 478.80 L404.00 475.37 L406.46 475.37 L406.46 471.93 L408.93 471.93 L408.93 458.20 L411.39 458.20 L411.39 465.07 L413.86 465.07 L413.86 468.50 L416.32 468.50 L416.32 485.67 L418.79 485.67 L418.79 468.50 L421.25 468.50 L421.25 458.20 L423.72 458.20 L423.72 454.77 L426.19 454.77 L426.19 468.50 L428.65 468.50 L428.65 485.67 L431.12 485.67 L431.12 471.93 L433.58 471.93 L433.58 465.07 L436.04 465.07 L436.04 458.20 L438.51 458.20 L438.51 471.93 L440.97 471.93 L440.97 485.67 L443.44 485.67 L443.44 478.80 L445.90 478.80 L445.90 471.93 L448.37 471.93 L448.37 458.20 L450.83 458.20 L450.83 471.93 L453.30 471.93 L453.30 475.37 L455.76 475.37 L455.76 482.23 L458.23 482.23 L458.23 471.93 L460.69 471.93 L460.69 458.20 L463.16 458.20 L463.16 461.63 L465.62 461.63 L465.62 468.50 L468.09 468.50 L468.09 478.80 L470.56 478.80 L470.56 465.07 L473.02 465.07 L473.02 454.77 L475.48 454.77 L475.48 451.33 L477.95 451.33 L477.95 468.50 L480.41 468.50 L480.41 485.67 L482.88 485.67 L482.88 475.37 L485.34 475.37" fill="none" stroke="#55b3a8" stroke-width="1.05"/>
<line x1="154" x2="517" y1="499.45" y2="499.45" stroke="#d8dadf" stroke-width="0.7"/>
<line x1="189.60" x2="189.60" y1="499.2" y2="504.2" stroke="#ccd6eb" stroke-width="0.6"/>
<line x1="248.72" x2="248.72" y1="499.2" y2="504.2" stroke="#ccd6eb" stroke-width="0.6"/>
<line x1="307.84" x2="307.84" y1="499.2" y2="504.2" stroke="#ccd6eb" stroke-width="0.6"/>
<line x1="366.96" x2="366.96" y1="499.2" y2="504.2" stroke="#ccd6eb" stroke-width="0.6"/>
<line x1="426.08" x2="426.08" y1="499.2" y2="504.2" stroke="#ccd6eb" stroke-width="0.6"/>
<line x1="485.20" x2="485.20" y1="499.2" y2="504.2" stroke="#ccd6eb" stroke-width="0.6"/>
</svg>
<svg class="a" style="left:0;top:0" width="972" height="748">
<line x1="574" x2="937" y1="396.50" y2="396.50" stroke="#e9e9e9" stroke-width="0.8"/>
<line x1="574" x2="937" y1="422.50" y2="422.50" stroke="#e9e9e9" stroke-width="0.8"/>
<line x1="574" x2="937" y1="448.50" y2="448.50" stroke="#e9e9e9" stroke-width="0.8"/>
<line x1="574" x2="937" y1="473.50" y2="473.50" stroke="#e9e9e9" stroke-width="0.8"/>
<path d="M577.50 499.40 L577.50 499.40 L579.97 499.40 L579.97 499.40 L582.43 499.40 L582.43 499.40 L584.89 499.40 L584.89 499.40 L587.36 499.40 L587.36 499.40 L589.83 499.40 L589.83 499.40 L592.29 499.40 L592.29 499.40 L594.75 499.40 L594.75 499.40 L597.22 499.40 L597.22 499.40 L599.68 499.40 L599.68 499.40 L602.15 499.40 L602.15 499.40 L604.62 499.40 L604.62 499.40 L607.08 499.40 L607.08 499.40 L609.54 499.40 L609.54 499.40 L612.01 499.40 L612.01 499.40 L614.48 499.40 L614.48 499.40 L616.94 499.40 L616.94 499.40 L619.40 499.40 L619.40 499.40 L621.87 499.40 L621.87 499.40 L624.34 499.40 L624.34 499.40 L626.80 499.40 L626.80 499.40 L629.26 499.40 L629.26 499.40 L631.73 499.40 L631.73 499.40 L634.19 499.40 L634.19 499.40 L636.66 499.40 L636.66 499.40 L639.12 499.40 L639.12 499.40 L641.59 499.40 L641.59 499.40 L644.05 499.40 L644.05 499.40 L646.52 499.40 L646.52 499.40 L648.99 499.40 L648.99 499.40 L651.45 499.40 L651.45 499.40 L653.91 499.40 L653.91 499.40 L656.38 499.40 L656.38 499.40 L658.85 499.40 L658.85 499.40 L661.31 499.40 L661.31 499.40 L663.77 499.40 L663.77 499.40 L666.24 499.40 L666.24 499.40 L668.71 499.40 L668.71 499.40 L671.17 499.40 L671.17 499.40 L673.63 499.40 L673.63 499.40 L676.10 499.40 L676.10 499.40 L678.57 499.40 L678.57 499.40 L681.03 499.40 L681.03 499.40 L683.50 499.40 L683.50 499.40 L685.96 499.40 L685.96 499.40 L688.42 499.40 L688.42 499.40 L690.89 499.40 L690.89 499.40 L693.36 499.40 L693.36 499.40 L695.82 499.40 L695.82 499.40 L698.28 499.40 L698.28 499.40 L700.75 499.40 L700.75 499.40 L703.22 499.40 L703.22 499.40 L705.68 499.40 L705.68 499.40 L708.14 499.40 L708.14 499.40 L710.61 499.40 L710.61 499.40 L713.08 499.40 L713.08 499.40 L715.54 499.40 L715.54 499.40 L718.00 499.40 L718.00 499.40 L720.47 499.40 L720.47 499.40 L722.93 499.40 L722.93 499.40 L725.40 499.40 L725.40 499.40 L727.87 499.40 L727.87 499.40 L730.33 499.40 L730.33 499.40 L732.79 499.40 L732.79 499.40 L735.26 499.40 L735.26 499.40 L737.73 499.40 L737.73 499.40 L740.19 499.40 L740.19 499.40 L742.65 499.40 L742.65 499.40 L745.12 499.40 L745.12 499.40 L747.59 499.40 L747.59 499.40 L750.05 499.40 L750.05 499.40 L752.51 499.40 L752.51 499.40 L754.98 499.40 L754.98 499.40 L757.44 499.40 L757.44 499.40 L759.91 499.40 L759.91 499.40 L762.38 499.40 L762.38 499.40 L764.84 499.40 L764.84 499.40 L767.30 499.40 L767.30 499.40 L769.77 499.40 L769.77 499.40 L772.24 499.40 L772.24 499.40 L774.70 499.40 L774.70 499.40 L777.16 499.40 L777.16 499.40 L779.63 499.40 L779.63 499.40 L782.10 499.40 L782.10 499.40 L784.56 499.40 L784.56 499.40 L787.02 499.40 L787.02 499.40 L789.49 499.40 L789.49 499.40 L791.95 499.40 L791.95 499.40 L794.42 499.40 L794.42 499.40 L796.88 499.40 L796.88 499.40 L799.35 499.40 L799.35 499.40 L801.82 499.40 L801.82 499.40 L804.28 499.40 L804.28 499.40 L806.75 499.40 L806.75 499.40 L809.21 499.40 L809.21 499.40 L811.67 499.40 L811.67 499.40 L814.14 499.40 L814.14 499.40 L816.61 499.40 L816.61 499.40 L819.07 499.40 L819.07 499.40 L821.53 499.40 L821.53 499.40 L824.00 499.40 L824.00 499.40 L826.46 499.40 L826.46 499.40 L828.93 499.40 L828.93 499.40 L831.39 499.40 L831.39 499.40 L833.86 499.40 L833.86 499.40 L836.33 499.40 L836.33 499.40 L838.79 499.40 L838.79 499.40 L841.25 499.40 L841.25 499.40 L843.72 499.40 L843.72 499.40 L846.18 499.40 L846.18 499.40 L848.65 499.40 L848.65 499.40 L851.12 499.40 L851.12 499.40 L853.58 499.40 L853.58 499.40 L856.04 499.40 L856.04 499.40 L858.51 499.40 L858.51 499.40 L860.97 499.40 L860.97 499.40 L863.44 499.40 L863.44 499.40 L865.90 499.40 L865.90 499.40 L868.37 499.40 L868.37 499.40 L870.84 499.40 L870.84 499.40 L873.30 499.40 L873.30 499.40 L875.76 499.40 L875.76 499.40 L878.23 499.40 L878.23 499.40 L880.69 499.40 L880.69 499.40 L883.16 499.40 L883.16 499.40 L885.62 499.40 L885.62 499.40 L888.09 499.40 L888.09 457.17 L890.56 457.17 L890.56 463.35 L893.02 463.35 L893.02 495.28 L895.48 495.28 L895.48 499.40 L897.95 499.40 L897.95 499.40 L900.41 499.40 L900.41 499.40 L902.88 499.40 L902.88 417.00 L905.35 417.00 L905.35 499.40 Z" fill="#a4aae1"/>
<path d="M577.50 499.40 L579.97 499.40 L579.97 499.40 L582.43 499.40 L582.43 499.40 L584.89 499.40 L584.89 499.40 L587.36 499.40 L587.36 499.40 L589.83 499.40 L589.83 499.40 L592.29 499.40 L592.29 499.40 L594.75 499.40 L594.75 499.40 L597.22 499.40 L597.22 499.40 L599.68 499.40 L599.68 499.40 L602.15 499.40 L602.15 499.40 L604.62 499.40 L604.62 499.40 L607.08 499.40 L607.08 499.40 L609.54 499.40 L609.54 499.40 L612.01 499.40 L612.01 499.40 L614.48 499.40 L614.48 499.40 L616.94 499.40 L616.94 499.40 L619.40 499.40 L619.40 499.40 L621.87 499.40 L621.87 499.40 L624.34 499.40 L624.34 499.40 L626.80 499.40 L626.80 499.40 L629.26 499.40 L629.26 499.40 L631.73 499.40 L631.73 499.40 L634.19 499.40 L634.19 499.40 L636.66 499.40 L636.66 499.40 L639.12 499.40 L639.12 499.40 L641.59 499.40 L641.59 499.40 L644.05 499.40 L644.05 499.40 L646.52 499.40 L646.52 499.40 L648.99 499.40 L648.99 499.40 L651.45 499.40 L651.45 499.40 L653.91 499.40 L653.91 499.40 L656.38 499.40 L656.38 499.40 L658.85 499.40 L658.85 499.40 L661.31 499.40 L661.31 499.40 L663.77 499.40 L663.77 499.40 L666.24 499.40 L666.24 499.40 L668.71 499.40 L668.71 499.40 L671.17 499.40 L671.17 499.40 L673.63 499.40 L673.63 499.40 L676.10 499.40 L676.10 499.40 L678.57 499.40 L678.57 499.40 L681.03 499.40 L681.03 499.40 L683.50 499.40 L683.50 499.40 L685.96 499.40 L685.96 499.40 L688.42 499.40 L688.42 499.40 L690.89 499.40 L690.89 499.40 L693.36 499.40 L693.36 499.40 L695.82 499.40 L695.82 499.40 L698.28 499.40 L698.28 499.40 L700.75 499.40 L700.75 499.40 L703.22 499.40 L703.22 499.40 L705.68 499.40 L705.68 499.40 L708.14 499.40 L708.14 499.40 L710.61 499.40 L710.61 499.40 L713.08 499.40 L713.08 499.40 L715.54 499.40 L715.54 499.40 L718.00 499.40 L718.00 499.40 L720.47 499.40 L720.47 499.40 L722.93 499.40 L722.93 499.40 L725.40 499.40 L725.40 499.40 L727.87 499.40 L727.87 499.40 L730.33 499.40 L730.33 499.40 L732.79 499.40 L732.79 499.40 L735.26 499.40 L735.26 499.40 L737.73 499.40 L737.73 499.40 L740.19 499.40 L740.19 499.40 L742.65 499.40 L742.65 499.40 L745.12 499.40 L745.12 499.40 L747.59 499.40 L747.59 499.40 L750.05 499.40 L750.05 499.40 L752.51 499.40 L752.51 499.40 L754.98 499.40 L754.98 499.40 L757.44 499.40 L757.44 499.40 L759.91 499.40 L759.91 499.40 L762.38 499.40 L762.38 499.40 L764.84 499.40 L764.84 499.40 L767.30 499.40 L767.30 499.40 L769.77 499.40 L769.77 499.40 L772.24 499.40 L772.24 499.40 L774.70 499.40 L774.70 499.40 L777.16 499.40 L777.16 499.40 L779.63 499.40 L779.63 499.40 L782.10 499.40 L782.10 499.40 L784.56 499.40 L784.56 499.40 L787.02 499.40 L787.02 499.40 L789.49 499.40 L789.49 499.40 L791.95 499.40 L791.95 499.40 L794.42 499.40 L794.42 499.40 L796.88 499.40 L796.88 499.40 L799.35 499.40 L799.35 499.40 L801.82 499.40 L801.82 499.40 L804.28 499.40 L804.28 499.40 L806.75 499.40 L806.75 499.40 L809.21 499.40 L809.21 499.40 L811.67 499.40 L811.67 499.40 L814.14 499.40 L814.14 499.40 L816.61 499.40 L816.61 499.40 L819.07 499.40 L819.07 499.40 L821.53 499.40 L821.53 499.40 L824.00 499.40 L824.00 499.40 L826.46 499.40 L826.46 499.40 L828.93 499.40 L828.93 499.40 L831.39 499.40 L831.39 499.40 L833.86 499.40 L833.86 499.40 L836.33 499.40 L836.33 499.40 L838.79 499.40 L838.79 499.40 L841.25 499.40 L841.25 499.40 L843.72 499.40 L843.72 499.40 L846.18 499.40 L846.18 499.40 L848.65 499.40 L848.65 499.40 L851.12 499.40 L851.12 499.40 L853.58 499.40 L853.58 499.40 L856.04 499.40 L856.04 499.40 L858.51 499.40 L858.51 499.40 L860.97 499.40 L860.97 499.40 L863.44 499.40 L863.44 499.40 L865.90 499.40 L865.90 499.40 L868.37 499.40 L868.37 499.40 L870.84 499.40 L870.84 499.40 L873.30 499.40 L873.30 499.40 L875.76 499.40 L875.76 499.40 L878.23 499.40 L878.23 499.40 L880.69 499.40 L880.69 499.40 L883.16 499.40 L883.16 499.40 L885.62 499.40 L885.62 499.40 L888.09 499.40 L888.09 457.17 L890.56 457.17 L890.56 463.35 L893.02 463.35 L893.02 495.28 L895.48 495.28 L895.48 499.40 L897.95 499.40 L897.95 499.40 L900.41 499.40 L900.41 499.40 L902.88 499.40 L902.88 417.00 L905.35 417.00" fill="none" stroke="#7f87d3" stroke-width="1"/>
<line x1="574" x2="937" y1="499.45" y2="499.45" stroke="#d8dadf" stroke-width="0.7"/>
<line x1="609.60" x2="609.60" y1="499.2" y2="504.2" stroke="#ccd6eb" stroke-width="0.6"/>
<line x1="668.72" x2="668.72" y1="499.2" y2="504.2" stroke="#ccd6eb" stroke-width="0.6"/>
<line x1="727.84" x2="727.84" y1="499.2" y2="504.2" stroke="#ccd6eb" stroke-width="0.6"/>
<line x1="786.96" x2="786.96" y1="499.2" y2="504.2" stroke="#ccd6eb" stroke-width="0.6"/>
<line x1="846.08" x2="846.08" y1="499.2" y2="504.2" stroke="#ccd6eb" stroke-width="0.6"/>
<line x1="905.20" x2="905.20" y1="499.2" y2="504.2" stroke="#ccd6eb" stroke-width="0.6"/>
</svg>
<svg class="a" style="left:0;top:0" width="972" height="748">
<line x1="154" x2="517" y1="592.50" y2="592.50" stroke="#e9e9e9" stroke-width="0.8"/>
<line x1="154" x2="517" y1="613.50" y2="613.50" stroke="#e9e9e9" stroke-width="0.8"/>
<line x1="154" x2="517" y1="633.50" y2="633.50" stroke="#e9e9e9" stroke-width="0.8"/>
<line x1="154" x2="517" y1="654.50" y2="654.50" stroke="#e9e9e9" stroke-width="0.8"/>
<line x1="154" x2="517" y1="675.50" y2="675.50" stroke="#e9e9e9" stroke-width="0.8"/>
<path d="M157.50 695.40 L157.50 613.00 L159.97 613.00 L159.97 613.00 L162.43 613.00 L162.43 613.00 L164.90 613.00 L164.90 613.00 L167.36 613.00 L167.36 613.00 L169.82 613.00 L169.82 613.00 L172.29 613.00 L172.29 613.00 L174.75 613.00 L174.75 613.00 L177.22 613.00 L177.22 613.00 L179.69 613.00 L179.69 613.00 L182.15 613.00 L182.15 613.00 L184.62 613.00 L184.62 613.00 L187.08 613.00 L187.08 613.00 L189.55 613.00 L189.55 613.00 L192.01 613.00 L192.01 613.00 L194.47 613.00 L194.47 613.00 L196.94 613.00 L196.94 613.00 L199.41 613.00 L199.41 613.00 L201.87 613.00 L201.87 613.00 L204.33 613.00 L204.33 613.00 L206.80 613.00 L206.80 613.00 L209.26 613.00 L209.26 613.00 L211.73 613.00 L211.73 613.00 L214.19 613.00 L214.19 613.00 L216.66 613.00 L216.66 613.00 L219.12 613.00 L219.12 613.00 L221.59 613.00 L221.59 613.00 L224.06 613.00 L224.06 613.00 L226.52 613.00 L226.52 613.00 L228.99 613.00 L228.99 613.00 L231.45 613.00 L231.45 613.00 L233.91 613.00 L233.91 613.00 L236.38 613.00 L236.38 613.00 L238.84 613.00 L238.84 613.00 L241.31 613.00 L241.31 613.00 L243.77 613.00 L243.77 613.00 L246.24 613.00 L246.24 613.00 L248.70 613.00 L248.70 613.00 L251.17 613.00 L251.17 613.00 L253.63 613.00 L253.63 613.00 L256.10 613.00 L256.10 613.00 L258.56 613.00 L258.56 613.00 L261.03 613.00 L261.03 613.00 L263.50 613.00 L263.50 613.00 L265.96 613.00 L265.96 613.00 L268.43 613.00 L268.43 613.00 L270.89 613.00 L270.89 613.00 L273.36 613.00 L273.36 613.00 L275.82 613.00 L275.82 613.00 L278.28 613.00 L278.28 613.00 L280.75 613.00 L280.75 613.00 L283.21 613.00 L283.21 613.00 L285.68 613.00 L285.68 613.00 L288.14 613.00 L288.14 613.00 L290.61 613.00 L290.61 613.00 L293.07 613.00 L293.07 613.00 L295.54 613.00 L295.54 613.00 L298.00 613.00 L298.00 613.00 L300.47 613.00 L300.47 613.00 L302.94 613.00 L302.94 613.00 L305.40 613.00 L305.40 613.00 L307.87 613.00 L307.87 613.00 L310.33 613.00 L310.33 613.00 L312.79 613.00 L312.79 613.00 L315.26 613.00 L315.26 613.00 L317.73 613.00 L317.73 613.00 L320.19 613.00 L320.19 613.00 L322.65 613.00 L322.65 613.00 L325.12 613.00 L325.12 613.00 L327.58 613.00 L327.58 613.00 L330.05 613.00 L330.05 613.00 L332.51 613.00 L332.51 613.00 L334.98 613.00 L334.98 613.00 L337.44 613.00 L337.44 613.00 L339.91 613.00 L339.91 613.00 L342.38 613.00 L342.38 613.00 L344.84 613.00 L344.84 613.00 L347.30 613.00 L347.30 613.00 L349.77 613.00 L349.77 613.00 L352.24 613.00 L352.24 613.00 L354.70 613.00 L354.70 613.00 L357.16 613.00 L357.16 613.00 L359.63 613.00 L359.63 613.00 L362.10 613.00 L362.10 613.00 L364.56 613.00 L364.56 613.00 L367.02 613.00 L367.02 613.00 L369.49 613.00 L369.49 613.00 L371.95 613.00 L371.95 613.00 L374.42 613.00 L374.42 613.00 L376.88 613.00 L376.88 613.00 L379.35 613.00 L379.35 613.00 L381.81 613.00 L381.81 613.00 L384.28 613.00 L384.28 613.00 L386.75 613.00 L386.75 613.00 L389.21 613.00 L389.21 613.00 L391.67 613.00 L391.67 613.00 L394.14 613.00 L394.14 613.00 L396.61 613.00 L396.61 613.00 L399.07 613.00 L399.07 613.00 L401.53 613.00 L401.53 613.00 L404.00 613.00 L404.00 613.00 L406.46 613.00 L406.46 613.00 L408.93 613.00 L408.93 613.00 L411.39 613.00 L411.39 613.00 L413.86 613.00 L413.86 613.00 L416.32 613.00 L416.32 613.00 L418.79 613.00 L418.79 613.00 L421.25 613.00 L421.25 613.00 L423.72 613.00 L423.72 613.00 L426.19 613.00 L426.19 613.00 L428.65 613.00 L428.65 613.00 L431.12 613.00 L431.12 613.00 L433.58 613.00 L433.58 613.00 L436.04 613.00 L436.04 613.00 L438.51 613.00 L438.51 613.00 L440.97 613.00 L440.97 613.00 L443.44 613.00 L443.44 613.00 L445.90 613.00 L445.90 613.00 L448.37 613.00 L448.37 613.00 L450.83 613.00 L450.83 613.00 L453.30 613.00 L453.30 613.00 L455.76 613.00 L455.76 613.00 L458.23 613.00 L458.23 613.00 L460.69 613.00 L460.69 613.00 L463.16 613.00 L463.16 613.00 L465.62 613.00 L465.62 613.00 L468.09 613.00 L468.09 613.00 L470.56 613.00 L470.56 613.00 L473.02 613.00 L473.02 613.00 L475.48 613.00 L475.48 613.00 L477.95 613.00 L477.95 613.00 L480.41 613.00 L480.41 613.00 L482.88 613.00 L482.88 613.00 L485.34 613.00 L485.34 695.40 Z" fill="#b1d293"/>
<path d="M157.50 613.00 L159.97 613.00 L159.97 613.00 L162.43 613.00 L162.43 613.00 L164.90 613.00 L164.90 613.00 L167.36 613.00 L167.36 613.00 L169.82 613.00 L169.82 613.00 L172.29 613.00 L172.29 613.00 L174.75 613.00 L174.75 613.00 L177.22 613.00 L177.22 613.00 L179.69 613.00 L179.69 613.00 L182.15 613.00 L182.15 613.00 L184.62 613.00 L184.62 613.00 L187.08 613.00 L187.08 613.00 L189.55 613.00 L189.55 613.00 L192.01 613.00 L192.01 613.00 L194.47 613.00 L194.47 613.00 L196.94 613.00 L196.94 613.00 L199.41 613.00 L199.41 613.00 L201.87 613.00 L201.87 613.00 L204.33 613.00 L204.33 613.00 L206.80 613.00 L206.80 613.00 L209.26 613.00 L209.26 613.00 L211.73 613.00 L211.73 613.00 L214.19 613.00 L214.19 613.00 L216.66 613.00 L216.66 613.00 L219.12 613.00 L219.12 613.00 L221.59 613.00 L221.59 613.00 L224.06 613.00 L224.06 613.00 L226.52 613.00 L226.52 613.00 L228.99 613.00 L228.99 613.00 L231.45 613.00 L231.45 613.00 L233.91 613.00 L233.91 613.00 L236.38 613.00 L236.38 613.00 L238.84 613.00 L238.84 613.00 L241.31 613.00 L241.31 613.00 L243.77 613.00 L243.77 613.00 L246.24 613.00 L246.24 613.00 L248.70 613.00 L248.70 613.00 L251.17 613.00 L251.17 613.00 L253.63 613.00 L253.63 613.00 L256.10 613.00 L256.10 613.00 L258.56 613.00 L258.56 613.00 L261.03 613.00 L261.03 613.00 L263.50 613.00 L263.50 613.00 L265.96 613.00 L265.96 613.00 L268.43 613.00 L268.43 613.00 L270.89 613.00 L270.89 613.00 L273.36 613.00 L273.36 613.00 L275.82 613.00 L275.82 613.00 L278.28 613.00 L278.28 613.00 L280.75 613.00 L280.75 613.00 L283.21 613.00 L283.21 613.00 L285.68 613.00 L285.68 613.00 L288.14 613.00 L288.14 613.00 L290.61 613.00 L290.61 613.00 L293.07 613.00 L293.07 613.00 L295.54 613.00 L295.54 613.00 L298.00 613.00 L298.00 613.00 L300.47 613.00 L300.47 613.00 L302.94 613.00 L302.94 613.00 L305.40 613.00 L305.40 613.00 L307.87 613.00 L307.87 613.00 L310.33 613.00 L310.33 613.00 L312.79 613.00 L312.79 613.00 L315.26 613.00 L315.26 613.00 L317.73 613.00 L317.73 613.00 L320.19 613.00 L320.19 613.00 L322.65 613.00 L322.65 613.00 L325.12 613.00 L325.12 613.00 L327.58 613.00 L327.58 613.00 L330.05 613.00 L330.05 613.00 L332.51 613.00 L332.51 613.00 L334.98 613.00 L334.98 613.00 L337.44 613.00 L337.44 613.00 L339.91 613.00 L339.91 613.00 L342.38 613.00 L342.38 613.00 L344.84 613.00 L344.84 613.00 L347.30 613.00 L347.30 613.00 L349.77 613.00 L349.77 613.00 L352.24 613.00 L352.24 613.00 L354.70 613.00 L354.70 613.00 L357.16 613.00 L357.16 613.00 L359.63 613.00 L359.63 613.00 L362.10 613.00 L362.10 613.00 L364.56 613.00 L364.56 613.00 L367.02 613.00 L367.02 613.00 L369.49 613.00 L369.49 613.00 L371.95 613.00 L371.95 613.00 L374.42 613.00 L374.42 613.00 L376.88 613.00 L376.88 613.00 L379.35 613.00 L379.35 613.00 L381.81 613.00 L381.81 613.00 L384.28 613.00 L384.28 613.00 L386.75 613.00 L386.75 613.00 L389.21 613.00 L389.21 613.00 L391.67 613.00 L391.67 613.00 L394.14 613.00 L394.14 613.00 L396.61 613.00 L396.61 613.00 L399.07 613.00 L399.07 613.00 L401.53 613.00 L401.53 613.00 L404.00 613.00 L404.00 613.00 L406.46 613.00 L406.46 613.00 L408.93 613.00 L408.93 613.00 L411.39 613.00 L411.39 613.00 L413.86 613.00 L413.86 613.00 L416.32 613.00 L416.32 613.00 L418.79 613.00 L418.79 613.00 L421.25 613.00 L421.25 613.00 L423.72 613.00 L423.72 613.00 L426.19 613.00 L426.19 613.00 L428.65 613.00 L428.65 613.00 L431.12 613.00 L431.12 613.00 L433.58 613.00 L433.58 613.00 L436.04 613.00 L436.04 613.00 L438.51 613.00 L438.51 613.00 L440.97 613.00 L440.97 613.00 L443.44 613.00 L443.44 613.00 L445.90 613.00 L445.90 613.00 L448.37 613.00 L448.37 613.00 L450.83 613.00 L450.83 613.00 L453.30 613.00 L453.30 613.00 L455.76 613.00 L455.76 613.00 L458.23 613.00 L458.23 613.00 L460.69 613.00 L460.69 613.00 L463.16 613.00 L463.16 613.00 L465.62 613.00 L465.62 613.00 L468.09 613.00 L468.09 613.00 L470.56 613.00 L470.56 613.00 L473.02 613.00 L473.02 613.00 L475.48 613.00 L475.48 613.00 L477.95 613.00 L477.95 613.00 L480.41 613.00 L480.41 613.00 L482.88 613.00 L482.88 613.00 L485.34 613.00" fill="none" stroke="#93c16d" stroke-width="1.1"/>
<path d="M157.50 695.40 L159.97 695.40 L159.97 695.40 L162.43 695.40 L162.43 695.40 L164.90 695.40 L164.90 695.40 L167.36 695.40 L167.36 695.40 L169.82 695.40 L169.82 695.40 L172.29 695.40 L172.29 695.40 L174.75 695.40 L174.75 695.40 L177.22 695.40 L177.22 695.40 L179.69 695.40 L179.69 695.40 L182.15 695.40 L182.15 695.40 L184.62 695.40 L184.62 695.40 L187.08 695.40 L187.08 695.40 L189.55 695.40 L189.55 695.40 L192.01 695.40 L192.01 695.40 L194.47 695.40 L194.47 695.40 L196.94 695.40 L196.94 695.40 L199.41 695.40 L199.41 695.40 L201.87 695.40 L201.87 695.40 L204.33 695.40 L204.33 695.40 L206.80 695.40 L206.80 695.40 L209.26 695.40 L209.26 695.40 L211.73 695.40 L211.73 695.40 L214.19 695.40 L214.19 695.40 L216.66 695.40 L216.66 695.40 L219.12 695.40 L219.12 695.40 L221.59 695.40 L221.59 695.40 L224.06 695.40 L224.06 695.40 L226.52 695.40 L226.52 695.40 L228.99 695.40 L228.99 695.40 L231.45 695.40 L231.45 695.40 L233.91 695.40 L233.91 695.40 L236.38 695.40 L236.38 695.40 L238.84 695.40 L238.84 695.40 L241.31 695.40 L241.31 695.40 L243.77 695.40 L243.77 695.40 L246.24 695.40 L246.24 695.40 L248.70 695.40 L248.70 695.40 L251.17 695.40 L251.17 695.40 L253.63 695.40 L253.63 695.40 L256.10 695.40 L256.10 695.40 L258.56 695.40 L258.56 695.40 L261.03 695.40 L261.03 695.40 L263.50 695.40 L263.50 695.40 L265.96 695.40 L265.96 695.40 L268.43 695.40 L268.43 695.40 L270.89 695.40 L270.89 695.40 L273.36 695.40 L273.36 695.40 L275.82 695.40 L275.82 695.40 L278.28 695.40 L278.28 695.40 L280.75 695.40 L280.75 695.40 L283.21 695.40 L283.21 695.40 L285.68 695.40 L285.68 695.40 L288.14 695.40 L288.14 695.40 L290.61 695.40 L290.61 695.40 L293.07 695.40 L293.07 695.40 L295.54 695.40 L295.54 695.40 L298.00 695.40 L298.00 695.40 L300.47 695.40 L300.47 695.40 L302.94 695.40 L302.94 695.40 L305.40 695.40 L305.40 695.40 L307.87 695.40 L307.87 695.40 L310.33 695.40 L310.33 695.40 L312.79 695.40 L312.79 695.40 L315.26 695.40 L315.26 695.40 L317.73 695.40 L317.73 695.40 L320.19 695.40 L320.19 695.40 L322.65 695.40 L322.65 695.40 L325.12 695.40 L325.12 695.40 L327.58 695.40 L327.58 695.40 L330.05 695.40 L330.05 695.40 L332.51 695.40 L332.51 695.40 L334.98 695.40 L334.98 695.40 L337.44 695.40 L337.44 695.40 L339.91 695.40 L339.91 695.40 L342.38 695.40 L342.38 695.40 L344.84 695.40 L344.84 695.40 L347.30 695.40 L347.30 695.40 L349.77 695.40 L349.77 695.40 L352.24 695.40 L352.24 695.40 L354.70 695.40 L354.70 695.40 L357.16 695.40 L357.16 695.40 L359.63 695.40 L359.63 695.40 L362.10 695.40 L362.10 695.40 L364.56 695.40 L364.56 695.40 L367.02 695.40 L367.02 695.40 L369.49 695.40 L369.49 695.40 L371.95 695.40 L371.95 695.40 L374.42 695.40 L374.42 695.40 L376.88 695.40 L376.88 695.40 L379.35 695.40 L379.35 695.40 L381.81 695.40 L381.81 695.40 L384.28 695.40 L384.28 695.40 L386.75 695.40 L386.75 695.40 L389.21 695.40 L389.21 695.40 L391.67 695.40 L391.67 695.40 L394.14 695.40 L394.14 695.40 L396.61 695.40 L396.61 695.40 L399.07 695.40 L399.07 695.40 L401.53 695.40 L401.53 695.40 L404.00 695.40 L404.00 695.40 L406.46 695.40 L406.46 695.40 L408.93 695.40 L408.93 695.40 L411.39 695.40 L411.39 695.40 L413.86 695.40 L413.86 695.40 L416.32 695.40 L416.32 695.40 L418.79 695.40 L418.79 695.40 L421.25 695.40 L421.25 695.40 L423.72 695.40 L423.72 695.40 L426.19 695.40 L426.19 695.40 L428.65 695.40 L428.65 695.40 L431.12 695.40 L431.12 695.40 L433.58 695.40 L433.58 695.40 L436.04 695.40 L436.04 695.40 L438.51 695.40 L438.51 695.40 L440.97 695.40 L440.97 695.40 L443.44 695.40 L443.44 695.40 L445.90 695.40 L445.90 695.40 L448.37 695.40 L448.37 695.40 L450.83 695.40 L450.83 695.40 L453.30 695.40 L453.30 695.40 L455.76 695.40 L455.76 695.40 L458.23 695.40 L458.23 695.40 L460.69 695.40 L460.69 695.40 L463.16 695.40 L463.16 695.40 L465.62 695.40 L465.62 695.40 L468.09 695.40 L468.09 695.40 L470.56 695.40 L470.56 695.40 L473.02 695.40 L473.02 695.40 L475.48 695.40 L475.48 695.40 L477.95 695.40 L477.95 695.40 L480.41 695.40 L480.41 695.40 L482.88 695.40 L482.88 695.40 L485.34 695.40" fill="none" stroke="#f5c84c" stroke-width="0.7"/>
<line x1="157.5" x2="485.1" y1="613.50" y2="613.50" stroke="#000" stroke-opacity="0.045" stroke-width="0.7"/>
<line x1="157.5" x2="485.1" y1="633.50" y2="633.50" stroke="#000" stroke-opacity="0.045" stroke-width="0.7"/>
<line x1="157.5" x2="485.1" y1="654.50" y2="654.50" stroke="#000" stroke-opacity="0.045" stroke-width="0.7"/>
<line x1="157.5" x2="485.1" y1="675.50" y2="675.50" stroke="#000" stroke-opacity="0.045" stroke-width="0.7"/>
<line x1="154" x2="517" y1="695.45" y2="695.45" stroke="#d8dadf" stroke-width="0.7"/>
<line x1="189.60" x2="189.60" y1="695.2" y2="700.2" stroke="#ccd6eb" stroke-width="0.6"/>
<line x1="248.72" x2="248.72" y1="695.2" y2="700.2" stroke="#ccd6eb" stroke-width="0.6"/>
<line x1="307.84" x2="307.84" y1="695.2" y2="700.2" stroke="#ccd6eb" stroke-width="0.6"/>
<line x1="366.96" x2="366.96" y1="695.2" y2="700.2" stroke="#ccd6eb" stroke-width="0.6"/>
<line x1="426.08" x2="426.08" y1="695.2" y2="700.2" stroke="#ccd6eb" stroke-width="0.6"/>
<line x1="485.20" x2="485.20" y1="695.2" y2="700.2" stroke="#ccd6eb" stroke-width="0.6"/>
</svg>
</body></html>
